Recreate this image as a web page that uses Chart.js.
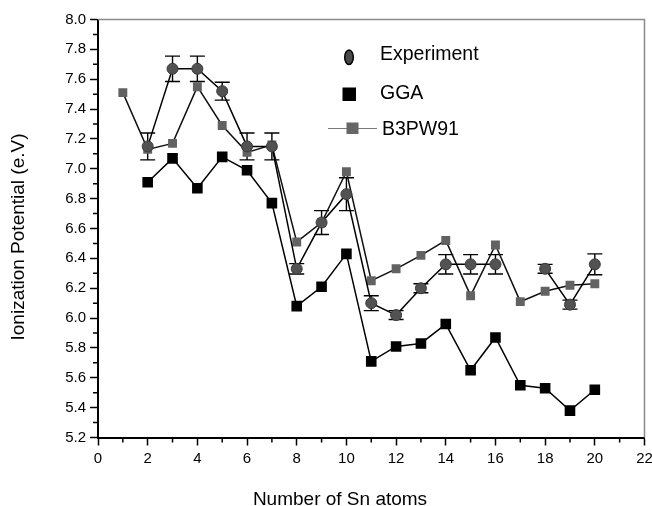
<!DOCTYPE html>
<html>
<head>
<meta charset="utf-8">
<script src="https://cdn.jsdelivr.net/npm/chart.js@4.4.0/dist/chart.umd.min.js"></script>
<style>
  html, body { margin: 0; padding: 0; background: #fff; }
  canvas { display: block; }
</style>
</head>
<body>
<canvas id="chart" width="652" height="506"></canvas>
<script>
// number of Sn atoms in the cluster
const atoms = [1, 2, 3, 4, 5, 6, 7, 8, 9, 10, 11, 12, 13, 14, 15, 16, 17, 18, 19, 20];

// ionization potentials (eV), null = no value for that size
const experiment = [null, 7.15, 7.67, 7.67, 7.52, 7.15, 7.15, 6.33, 6.64, 6.83,
                    6.10, 6.02, 6.20, 6.36, 6.36, 6.36, null, 6.33, 6.09, 6.36];
const expError   = [null, 0.09, 0.085, 0.085, 0.06, 0.09, 0.09, 0.035, 0.08, 0.11,
                    0.05, 0.03, 0.03, 0.065, 0.065, 0.065, null, 0.03, 0.03, 0.07];
const gga        = [null, 6.91, 7.07, 6.87, 7.08, 6.99, 6.77, 6.08, 6.21, 6.43,
                    5.71, 5.81, 5.83, 5.96, 5.65, 5.87, 5.55, 5.53, 5.38, 5.52];
const b3pw91     = [7.51, 7.13, 7.17, 7.55, 7.29, 7.11, 7.16, 6.51, 6.64, 6.98,
                    6.25, 6.33, 6.42, 6.52, 6.15, 6.49, 6.11, 6.18, 6.22, 6.23];

const seriesNames = ['Experiment', 'GGA', 'B3PW91'];
const xTitle = 'Number of Sn atoms';
const yTitle = 'Ionization Potential (e.V)';

const FONT = '"Liberation Sans", Arial, Helvetica, sans-serif';

const points = arr => atoms.map((n, i) => ({ x: n, y: arr[i] }));

// error bars, minor ticks, frame, legend and axis titles
const extras = {
  id: 'extras',
  beforeDatasetsDraw(chart) {
    const { ctx, scales: { x, y } } = chart;
    ctx.save();
    ctx.strokeStyle = '#000';
    ctx.lineWidth = 1.4;
    atoms.forEach((n, i) => {
      if (experiment[i] == null) return;
      const px = x.getPixelForValue(n);
      const top = y.getPixelForValue(experiment[i] + expError[i]);
      const bot = y.getPixelForValue(experiment[i] - expError[i]);
      ctx.beginPath();
      ctx.moveTo(px, top); ctx.lineTo(px, bot);
      ctx.moveTo(px - 7.5, top); ctx.lineTo(px + 7.5, top);
      ctx.moveTo(px - 7.5, bot); ctx.lineTo(px + 7.5, bot);
      ctx.stroke();
    });
    ctx.restore();
  },
  afterDraw(chart) {
    const { ctx, chartArea: a, scales: { x, y } } = chart;
    ctx.save();

    // grey frame on top and right
    ctx.strokeStyle = '#8a8a8a';
    ctx.lineWidth = 1.5;
    ctx.beginPath();
    ctx.moveTo(a.left, a.top);
    ctx.lineTo(a.right, a.top);
    ctx.lineTo(a.right, a.bottom);
    ctx.stroke();

    // minor ticks
    ctx.strokeStyle = '#000';
    ctx.lineWidth = 1.5;
    ctx.beginPath();
    for (let v = 5.3; v < 8; v += 0.2) {
      const py = y.getPixelForValue(v);
      ctx.moveTo(a.left - 5, py); ctx.lineTo(a.left, py);
    }
    for (let v = 1; v < 22; v += 2) {
      const px = x.getPixelForValue(v);
      ctx.moveTo(px, a.bottom); ctx.lineTo(px, a.bottom + 5);
    }
    ctx.stroke();

    // legend
    ctx.font = '19.5px ' + FONT;
    ctx.textAlign = 'left';
    ctx.textBaseline = 'alphabetic';
    ctx.beginPath();
    ctx.ellipse(349, 57.3, 4.3, 7.3, 0, 0, Math.PI * 2);
    ctx.fillStyle = '#4a4a4a';
    ctx.fill();
    ctx.lineWidth = 1.5;
    ctx.strokeStyle = '#000';
    ctx.stroke();
    ctx.fillStyle = '#000';
    ctx.fillText(seriesNames[0], 380, 60);

    ctx.fillRect(342.5, 87.5, 13.5, 13.5);
    ctx.fillText(seriesNames[1], 380, 99.3);

    ctx.strokeStyle = '#7a7a7a';
    ctx.lineWidth = 1;
    ctx.beginPath();
    ctx.moveTo(328, 128.5); ctx.lineTo(377, 128.5);
    ctx.stroke();
    ctx.fillStyle = '#666';
    ctx.fillRect(346.5, 122.5, 12, 11.5);
    ctx.fillStyle = '#000';
    ctx.fillText(seriesNames[2], 382, 135);

    // axis titles
    ctx.font = '19px ' + FONT;
    ctx.textAlign = 'center';
    ctx.fillText(xTitle, 340, 504.5);
    ctx.translate(23.5, 237);
    ctx.rotate(-Math.PI / 2);
    ctx.fillText(yTitle, 0, 0);

    ctx.restore();
  }
};

const tickFont = { family: FONT, size: 15 };

new Chart(document.getElementById('chart').getContext('2d'), {
  type: 'line',
  data: {
    datasets: [
      {
        label: seriesNames[0],
        data: points(experiment),
        order: 0,
        borderColor: '#000',
        borderWidth: 1.5,
        pointStyle: 'circle',
        pointRadius: 5.5,
        pointBackgroundColor: '#525252',
        pointBorderColor: '#3a3a3a',
        pointBorderWidth: 1,
        spanGaps: false,
      },
      {
        label: seriesNames[1],
        data: points(gga),
        order: 1,
        borderColor: '#000',
        borderWidth: 1.5,
        pointStyle: 'rect',
        pointRadius: 7.5,
        pointBackgroundColor: '#000',
        pointBorderColor: '#000',
        pointBorderWidth: 0,
      },
      {
        label: seriesNames[2],
        data: points(b3pw91),
        order: 2,
        borderColor: '#111',
        borderWidth: 1.5,
        pointStyle: 'rect',
        pointRadius: 6.3,
        pointBackgroundColor: '#626262',
        pointBorderColor: '#5a5a5a',
        pointBorderWidth: 0,
      },
    ],
  },
  options: {
    responsive: false,
    animation: false,
    layout: { padding: { top: 19.5, right: 5, left: 0, bottom: 0 } },
    plugins: { legend: { display: false }, tooltip: { enabled: false } },
    scales: {
      x: {
        type: 'linear',
        min: 0,
        max: 22,
        ticks: { stepSize: 2, color: '#000', font: tickFont, padding: 4 },
        grid: { drawOnChartArea: false, tickLength: 8, tickColor: '#000', tickWidth: 1.5 },
        border: { color: '#000', width: 2 },
        afterFit: s => { s.height = 68.5; s.paddingLeft = 0; s.paddingRight = 0; },
      },
      y: {
        min: 5.2,
        max: 8.0,
        ticks: {
          stepSize: 0.2,
          color: '#000',
          font: tickFont,
          padding: 4,
          callback: v => v.toFixed(1),
        },
        grid: { drawOnChartArea: false, tickLength: 8, tickColor: '#000', tickWidth: 1.5 },
        border: { color: '#000', width: 2 },
        afterFit: s => { s.width = 98; },
      },
    },
  },
  plugins: [extras],
});
</script>
</body>
</html>
